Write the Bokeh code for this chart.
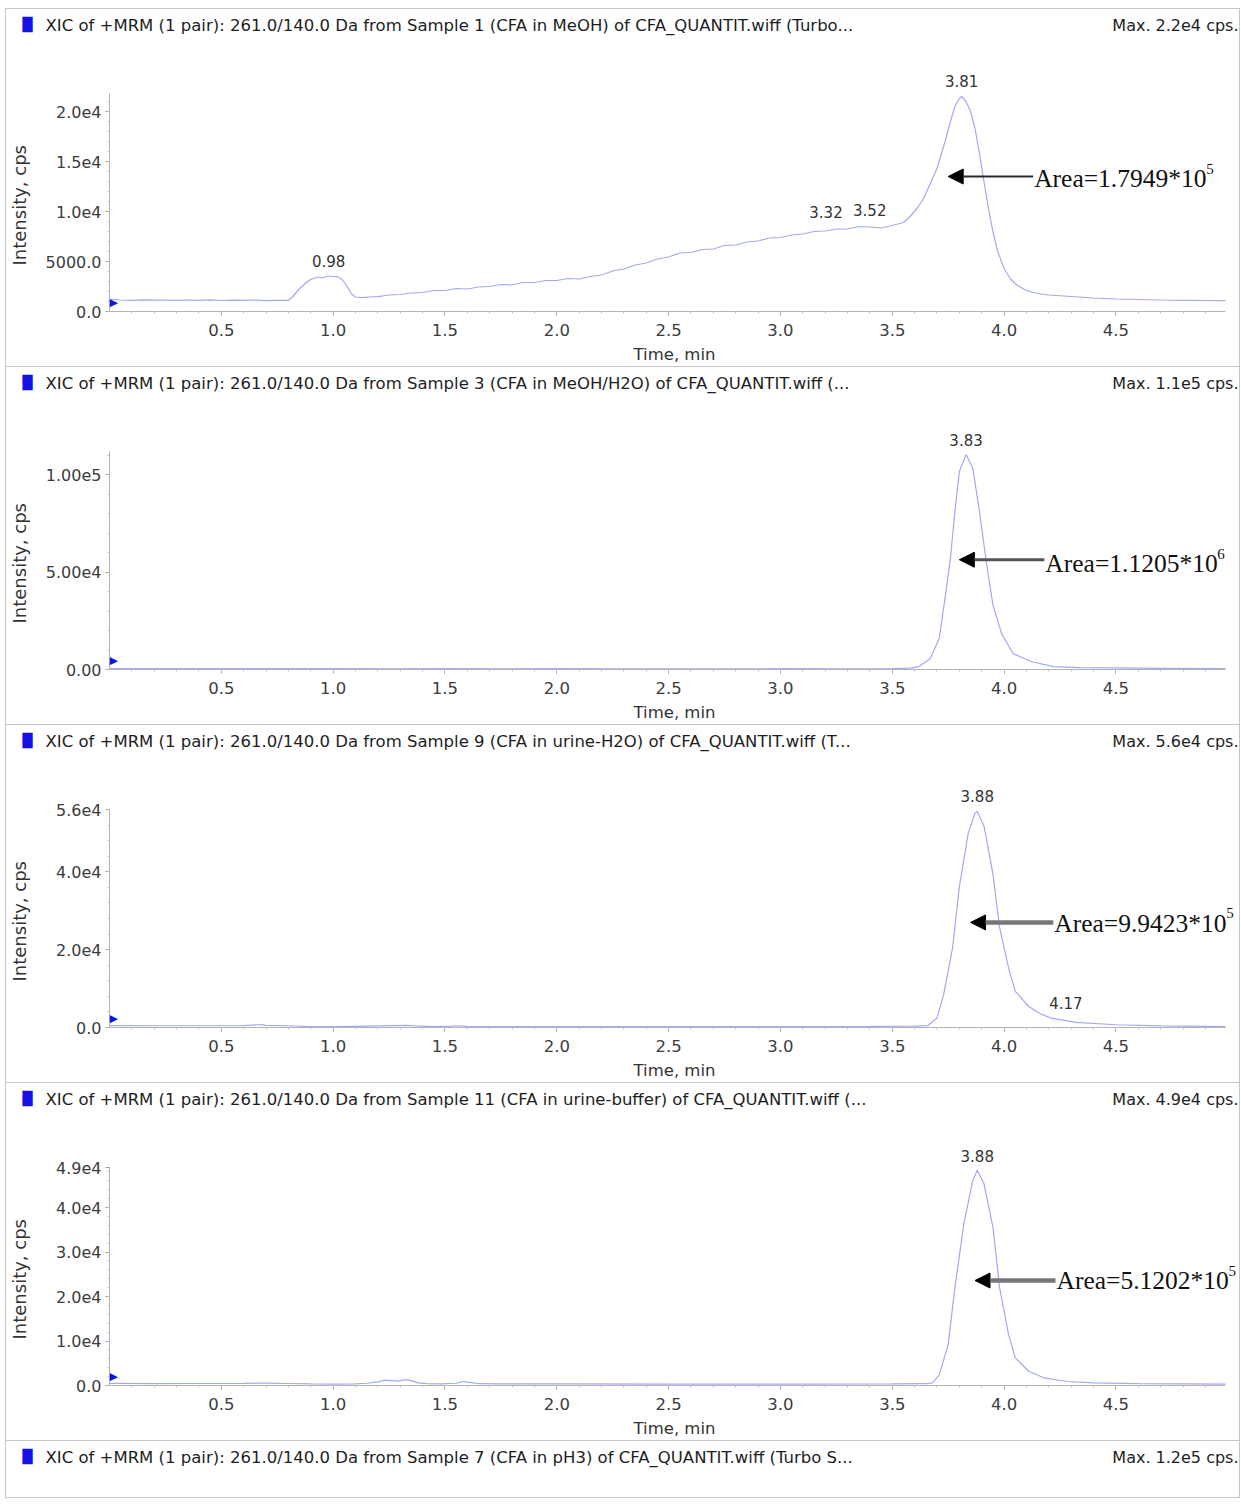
import math
from bokeh.plotting import figure
from bokeh.models import Label, Arrow, NormalHead, FixedTicker, Range1d
from bokeh.layouts import column, row
from bokeh.embed import file_html
from bokeh.resources import INLINE

# ---------------- data ----------------
# Sample 1 (CFA in MeOH)
time_s1 = [0.00, 0.05, 0.10, 0.15, 0.20, 0.25, 0.30, 0.35, 0.40, 0.45,
           0.50, 0.55, 0.60, 0.65, 0.70, 0.75, 0.80, 0.82, 0.85, 0.88,
           0.90, 0.93, 0.95, 0.98, 1.00, 1.02, 1.04, 1.06, 1.08, 1.10,
           1.13, 1.16, 1.20, 1.25, 1.30, 1.35, 1.40, 1.45, 1.50, 1.55,
           1.60, 1.65, 1.70, 1.75, 1.80, 1.85, 1.90, 1.95, 2.00, 2.05,
           2.10, 2.15, 2.20, 2.25, 2.30, 2.35, 2.40, 2.45, 2.50, 2.55,
           2.60, 2.65, 2.70, 2.75, 2.80, 2.85, 2.90, 2.95, 3.00, 3.05,
           3.10, 3.15, 3.20, 3.25, 3.30, 3.35, 3.40, 3.45, 3.50, 3.55,
           3.58, 3.61, 3.64, 3.67, 3.70, 3.72, 3.74, 3.76, 3.78, 3.80,
           3.81, 3.83, 3.85, 3.87, 3.89, 3.91, 3.93, 3.95, 3.97, 4.00,
           4.03, 4.06, 4.10, 4.15, 4.20, 4.30, 4.40, 4.50, 4.60, 4.70,
           4.80, 4.90, 4.99]
int_s1 = [1250, 1150, 1120, 1170, 1130, 1150, 1110, 1150, 1120, 1160,
          1100, 1140, 1110, 1150, 1090, 1110, 1120, 1500, 2300, 2900,
          3200, 3450, 3350, 3550, 3500, 3480, 3200, 2600, 1800, 1450,
          1380, 1450, 1480, 1650, 1700, 1850, 1900, 2100, 2100, 2300,
          2250, 2450, 2500, 2700, 2650, 2900, 2900, 3100, 3100, 3300,
          3250, 3500, 3650, 4050, 4250, 4650, 4850, 5250, 5450, 5850,
          5900, 6200, 6250, 6600, 6650, 6950, 7050, 7350, 7400, 7650,
          7750, 8000, 8050, 8250, 8250, 8500, 8450, 8350, 8600, 8900,
          9500, 10300, 11300, 12800, 14300, 15800, 17300, 19000, 20500, 21300,
          21500, 21000, 20000, 18300, 15800, 13000, 10300, 8000, 6100, 4300,
          3200, 2600, 2100, 1800, 1650, 1500, 1350, 1250, 1200, 1150,
          1120, 1100, 1080]

# Sample 3 (CFA in MeOH/H2O)
time_s3 = [0.00, 0.25, 0.50, 0.75, 1.00, 1.25, 1.50, 1.75, 2.00, 2.25,
           2.50, 2.75, 3.00, 3.25, 3.50, 3.58, 3.62, 3.67, 3.71, 3.74,
           3.76, 3.78, 3.80, 3.83, 3.86, 3.89, 3.92, 3.95, 3.99, 4.04,
           4.12, 4.22, 4.34, 4.49, 4.70, 4.99]
int_s3 = [500, 450, 420, 450, 400, 380, 420, 380, 400, 380,
          360, 380, 400, 380, 450, 700, 1500, 5600, 15900, 40000,
          57000, 81000, 101500, 110300, 103300, 81000, 55400, 33300, 18000, 8200,
          4100, 1500, 1000, 800, 600, 450]

# Sample 9 (CFA in urine-H2O)
time_s9 = [0.00, 0.20, 0.40, 0.60, 0.66, 0.68, 0.70, 0.80, 0.90, 1.00,
           1.10, 1.20, 1.28, 1.32, 1.36, 1.45, 1.53, 1.56, 1.60, 1.70,
           2.00, 2.50, 3.00, 3.40, 3.60, 3.66, 3.70, 3.73, 3.77, 3.80,
           3.84, 3.87, 3.88, 3.91, 3.95, 3.98, 4.02, 4.05, 4.11, 4.16,
           4.21, 4.32, 4.50, 4.70, 4.99]
int_s9 = [500, 450, 450, 500, 700, 750, 550, 450, 250, 200,
          300, 400, 500, 550, 400, 200, 350, 450, 300, 200,
          200, 200, 250, 300, 350, 500, 2400, 8500, 20600, 36200,
          50000, 55100, 55500, 51800, 39500, 25700, 15300, 9300, 5400, 3600,
          2400, 1300, 700, 400, 250]

# Sample 11 (CFA in urine-buffer)
time_s11 = [0.00, 0.20, 0.40, 0.60, 0.70, 0.80, 0.90, 1.00, 1.10, 1.15,
            1.20, 1.23, 1.26, 1.29, 1.32, 1.35, 1.38, 1.42, 1.48, 1.55,
            1.58, 1.61, 1.65, 1.75, 2.00, 2.50, 3.00, 3.50, 3.65, 3.68,
            3.71, 3.75, 3.78, 3.82, 3.86, 3.88, 3.91, 3.95, 3.98, 4.02,
            4.05, 4.11, 4.18, 4.28, 4.40, 4.60, 4.99]
int_s11 = [500, 400, 450, 500, 550, 450, 350, 300, 350, 500,
           800, 1200, 1100, 1000, 1300, 1100, 600, 400, 350, 500,
           900, 700, 400, 350, 350, 300, 300, 350, 400, 600,
           2400, 9200, 22000, 36300, 46100, 48400, 45400, 35600, 22000, 11500,
           6200, 3200, 1700, 900, 600, 400, 300]

x_ticks = [0.5, 1.0, 1.5, 2.0, 2.5, 3.0, 3.5, 4.0, 4.5]
x_tick_labels = ["0.5", "1.0", "1.5", "2.0", "2.5", "3.0", "3.5", "4.0", "4.5"]

y_ticks_s1 = [0, 5000, 10000, 15000, 20000]
y_labels_s1 = ["0.0", "5000.0", "1.0e4", "1.5e4", "2.0e4"]
y_ticks_s3 = [0, 50000, 100000]
y_labels_s3 = ["0.00", "5.00e4", "1.00e5"]
y_ticks_s9 = [0, 20000, 40000, 56000]
y_labels_s9 = ["0.0", "2.0e4", "4.0e4", "5.6e4"]
y_ticks_s11 = [0, 10000, 20000, 30000, 40000, 49000]
y_labels_s11 = ["0.0", "1.0e4", "2.0e4", "3.0e4", "4.0e4", "4.9e4"]
y_axis_tops = [21800, 111800, 56000, 49000]

headers = [
    "XIC of +MRM (1 pair): 261.0/140.0 Da  from Sample 1 (CFA in MeOH) of CFA_QUANTIT.wiff (Turbo...",
    "XIC of +MRM (1 pair): 261.0/140.0 Da  from Sample 3 (CFA in MeOH/H2O) of CFA_QUANTIT.wiff (...",
    "XIC of +MRM (1 pair): 261.0/140.0 Da  from Sample 9 (CFA in urine-H2O) of CFA_QUANTIT.wiff (T...",
    "XIC of +MRM (1 pair): 261.0/140.0 Da  from Sample 11 (CFA in urine-buffer) of CFA_QUANTIT.wiff (...",
    "XIC of +MRM (1 pair): 261.0/140.0 Da  from Sample 7 (CFA in pH3) of CFA_QUANTIT.wiff (Turbo S...",
]
max_texts = ["Max. 2.2e4 cps.", "Max. 1.1e5 cps.", "Max. 5.6e4 cps.", "Max. 4.9e4 cps.", "Max. 1.2e5 cps."]

# peak labels: (label, retention time, x offset px, y offset px)
peaks_s1 = [("0.98", 0.98, 0, 15), ("3.32", 3.32, -26, 17), ("3.52", 3.52, -27, 16), ("3.81", 3.81, 0, 16)]
peaks_s3 = [("3.83", 3.83, 0, 14)]
peaks_s9 = [("3.88", 3.88, 0, 15), ("4.17", 4.16, 26, 10)]
peaks_s11 = [("3.88", 3.88, 0, 14)]

area_texts = ["Area=1.7949*10", "Area=1.1205*10", "Area=9.9423*10", "Area=5.1202*10"]
area_exponents = ["5", "6", "5", "5"]

# ---------------- layout constants ----------------
W = 1233            # panel width
HH = 30             # header strip height
HP = 327            # plot strip height
LW = 36             # width of strip carrying the y title
PW = W - LW         # plot figure width
FL = 67             # plot figure left border
FB = 55             # plot figure bottom border
AXIS_PX = 218       # pixel height of the y axis
FRAME_H = HP - FB   # 272
PX_PER_MIN = 1116 / 4.99
X_END = (PW - FL) / PX_PER_MIN
FONT = "DejaVu Sans"
TRACE = "#a3a9ee"
WHITE = {"background-color": "white"}


def blank_fig(width, height):
    f = figure(width=width, height=height, x_range=Range1d(0, 1), y_range=Range1d(0, 1),
               output_backend="svg", toolbar_location=None, title=None, styles=WHITE,
               min_border_left=0, min_border_right=0, min_border_top=0, min_border_bottom=0)
    f.axis.visible = False
    f.grid.visible = False
    f.outline_line_color = None
    f.border_fill_color = "white"
    f.background_fill_color = "white"
    return f


def header_fig(text, maxtxt, height):
    h = blank_fig(W, height)
    yb = height - 16
    h.add_layout(Label(x=16, y=yb + 1, x_units="screen", y_units="screen", text="\u2588",
                       text_font=FONT, text_font_size="13px", text_color="#1212e8",
                       text_align="left", text_baseline="middle"))
    h.add_layout(Label(x=39, y=yb, x_units="screen", y_units="screen", text=text,
                       text_font=FONT, text_font_size="16.5px", text_color="#1e1e1e",
                       text_align="left", text_baseline="middle"))
    h.add_layout(Label(x=W - 1, y=yb, x_units="screen", y_units="screen", text=maxtxt,
                       text_font=FONT, text_font_size="16px", text_color="#1e1e1e",
                       text_align="right", text_baseline="middle"))
    return h


def ytitle_fig():
    f = blank_fig(LW, HP)
    # the row aligns this strip's frame with the plot frame, so y=0 is the x axis level;
    # rotated title starts near the bottom of the y axis and reads upwards
    f.add_layout(Label(x=13, y=AXIS_PX / 2 - 63, x_units="screen", y_units="screen",
                       text="Intensity, cps", angle=math.pi / 2, text_font=FONT,
                       text_font_size="18px", text_color="#333333",
                       text_align="left", text_baseline="middle"))
    return f


def plot_fig(t, v, yticks, ylabels, ystep, ytop, peaks, area, area_exp,
             tip, tail, ya, acolor, awidth, text_dy):
    p = figure(width=PW, height=HP, x_range=Range1d(0, X_END),
               y_range=Range1d(0, ytop * FRAME_H / AXIS_PX),
               output_backend="svg", toolbar_location=None, title=None, styles=WHITE,
               min_border_left=FL, min_border_right=0, min_border_top=0, min_border_bottom=FB)
    p.outline_line_color = None
    p.xgrid.visible = False
    p.ygrid.visible = False
    p.background_fill_color = "white"
    p.border_fill_color = "white"

    p.xaxis.ticker = FixedTicker(ticks=x_ticks, minor_ticks=[i / 10 for i in range(1, 50)])
    p.xaxis.major_label_overrides = {xt: lab for xt, lab in zip(x_ticks, x_tick_labels)}
    p.xaxis.bounds = (0, 4.99)
    p.xaxis.axis_label = "Time, min"
    p.xaxis.axis_label_text_font = FONT
    p.xaxis.axis_label_text_font_size = "16.5px"
    p.xaxis.axis_label_text_font_style = "normal"
    p.xaxis.axis_label_text_color = "#333333"
    p.xaxis.axis_label_standoff = 6

    nmin = int(ytop // ystep) + 1
    p.yaxis.ticker = FixedTicker(ticks=yticks, minor_ticks=[i * ystep for i in range(nmin)])
    p.yaxis.major_label_overrides = {yt: lab for yt, lab in zip(yticks, ylabels)}
    p.yaxis.bounds = (0, ytop)

    for ax in (p.xaxis[0], p.yaxis[0]):
        ax.axis_line_color = "#b4b4b4"
        ax.major_tick_line_color = "#a0a0a0"
        ax.minor_tick_line_color = "#c0c0c0"
        ax.major_tick_in = 0
        ax.major_tick_out = 4
        ax.minor_tick_in = 0
        ax.minor_tick_out = 2
        ax.major_label_text_font = FONT
        ax.major_label_text_color = "#3c3c3c"
    p.xaxis.major_label_text_font_size = "16.5px"
    p.yaxis.major_label_text_font_size = "16px"
    p.xaxis.major_label_standoff = 8
    p.yaxis.major_label_standoff = 4

    p.line(t, v, line_color=TRACE, line_width=1.2)

    # blue start marker at the y axis
    p.add_layout(Label(x=t[0], y=0, text="\u25b6", text_font=FONT, text_font_size="11px",
                       text_color="#1414e0", text_align="left", text_baseline="middle",
                       x_offset=0, y_offset=9))

    # peak retention-time labels
    for lab, rt, dx, dy in peaks:
        i = min(range(len(t)), key=lambda k: abs(t[k] - rt))
        p.add_layout(Label(x=rt, y=v[i], text=lab, x_offset=dx, y_offset=dy, text_font=FONT,
                           text_font_size="15px", text_color="#333333",
                           text_align="center", text_baseline="middle"))

    # area arrow + text
    p.add_layout(Arrow(end=NormalHead(size=15, fill_color="black", line_color="black"),
                       x_start=tail, y_start=ya, x_end=tip, y_end=ya,
                       line_color=acolor, line_width=awidth))
    p.add_layout(Label(x=tail, y=ya, text=area, x_offset=1, y_offset=text_dy,
                       text_font="Liberation Serif", text_font_size="25.5px", text_color="#111111",
                       text_align="left", text_baseline="middle"))
    p.add_layout(Label(x=tail, y=ya, text=area_exp, x_offset=173, y_offset=text_dy + 10,
                       text_font="Liberation Serif", text_font_size="15px", text_color="#111111",
                       text_align="left", text_baseline="middle"))
    return p


def panel(idx, p):
    return column(header_fig(headers[idx], max_texts[idx], HH), row(ytitle_fig(), p, spacing=0),
                  spacing=0, styles=WHITE)


p1 = plot_fig(time_s1, int_s1, y_ticks_s1, y_labels_s1, 1000, y_axis_tops[0],
              peaks_s1, area_texts[0], area_exponents[0], 3.75, 4.13, 13500, "#2a2a2a", 2, -2)
p2 = plot_fig(time_s3, int_s3, y_ticks_s3, y_labels_s3, 10000, y_axis_tops[1],
              peaks_s3, area_texts[1], area_exponents[1], 3.80, 4.18, 56300, "#555555", 3, -4)
p3 = plot_fig(time_s9, int_s9, y_ticks_s9, y_labels_s9, 4000, y_axis_tops[2],
              peaks_s9, area_texts[2], area_exponents[2], 3.85, 4.22, 27000, "#777777", 4.5, -1)
p4 = plot_fig(time_s11, int_s11, y_ticks_s11, y_labels_s11, 2000, y_axis_tops[3],
              peaks_s11, area_texts[3], area_exponents[3], 3.87, 4.23, 23600, "#777777", 4.5, 0)

# partially visible fifth panel (header only)
p5 = header_fig(headers[4], max_texts[4], 56)

layout = column(panel(0, p1), panel(1, p2), panel(2, p3), panel(3, p4), p5, spacing=1,
                styles={"background-color": "#c6c6c6", "padding": "1px",
                        "margin-left": "5px", "margin-top": "8px"})

open("out.html", "w").write(file_html(layout, INLINE))
